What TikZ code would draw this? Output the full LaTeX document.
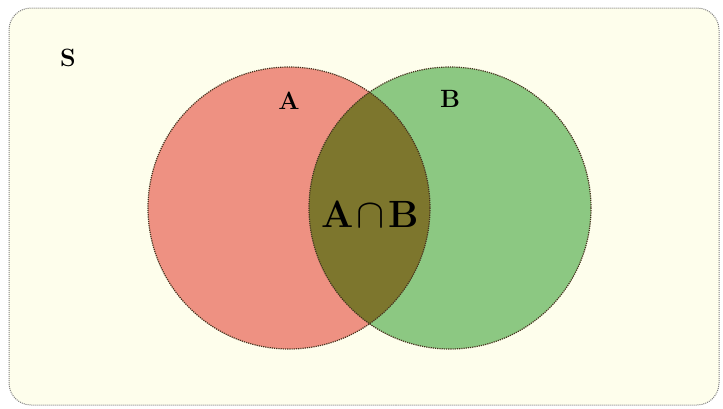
\documentclass[tikz,border=0pt]{standalone}
\usepackage{graphicx}
\begin{document}
\begin{tikzpicture}[x=1pt,y=-1pt,
  setlabel/.style={font=\fontsize{25}{28}\selectfont\bfseries, inner sep=0pt},
  outline/.style={draw={rgb,255:red,70;green,50;blue,30}, line width=1.2pt, densely dotted}]
\definecolor{bgfill}{RGB}{254,254,236}
\definecolor{redfill}{RGB}{238,145,130}
\definecolor{greenfill}{RGB}{140,200,130}
\definecolor{olivefill}{RGB}{125,118,45}
\useasboundingbox (0,0) rectangle (723,408);
\draw[fill=bgfill, draw=gray, densely dotted, line width=1pt, rounded corners=22pt] (9,8) rectangle (719,405);
\fill[redfill] (289,208) circle (141);
\fill[greenfill] (450,208) circle (141);
\begin{scope}
  \clip (289,208) circle (141);
  \fill[olivefill] (450,208) circle (141);
\end{scope}
\draw[outline] (289,208) circle (141);
\draw[outline] (450,208) circle (141);
\node[setlabel] (S) at (68,58) {S};
\node[setlabel] (A) at (289,101) {A};
\node[setlabel] (B) at (450,99) {B};
\node[font=\fontsize{38}{42}\selectfont\bfseries, inner sep=0pt] (AB) at (370,214) {A\hspace{3pt}\scalebox{1.7}[1.65]{$\cap$}\hspace{3pt}B};
\end{tikzpicture}
\end{document}
